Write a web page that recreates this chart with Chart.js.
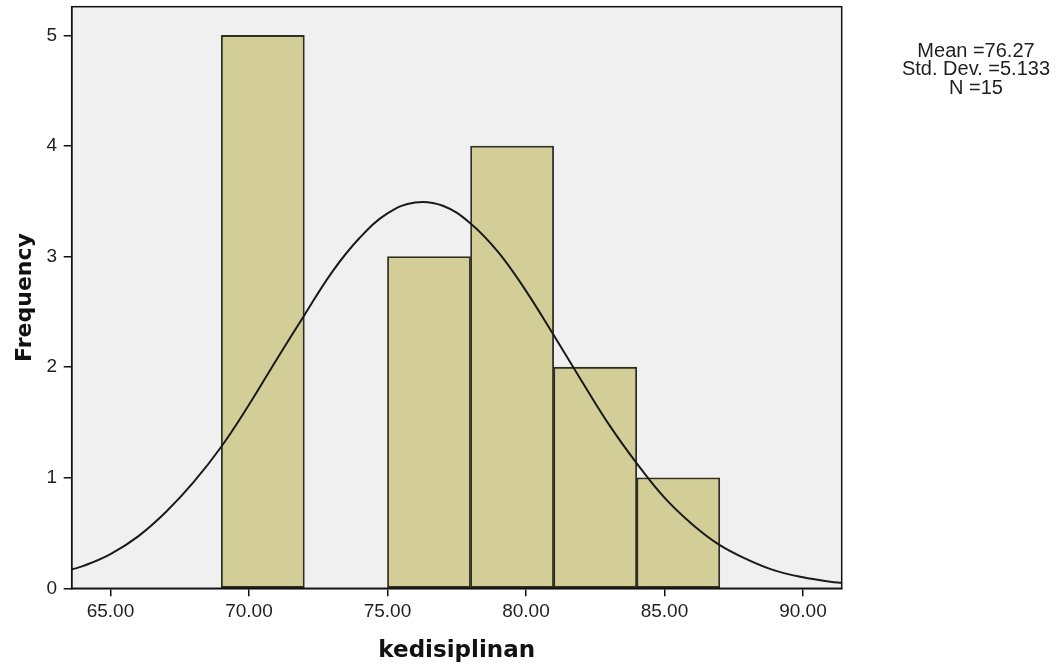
<!DOCTYPE html>
<html>
<head>
<meta charset="utf-8">
<script src="https://cdn.jsdelivr.net/npm/chart.js@4"></script>
<style>
  html, body { margin: 0; padding: 0; background: #fff; }
  #wrap { width: 1061px; height: 667px; }
</style>
</head>
<body>
<div id="wrap"><canvas id="histChart" width="1061" height="667"></canvas></div>
<script>
// Histogram bins (start of each bin, width 3) and their counts
const binStarts = [69, 72, 75, 78, 81, 84];
const binCounts = [5, 0, 3, 4, 2, 1];
const binWidth = 3;

// Normal curve
const curveX = [63.6, 64, 65, 66, 67, 68, 69, 70, 71, 72, 73, 74, 75, 76, 77, 78, 79, 80, 81, 82, 83, 84, 85, 86, 87, 88, 89, 90, 91, 91.4];
const curveY = [0.17, 0.20, 0.31, 0.47, 0.69, 0.96, 1.28, 1.66, 2.07, 2.47, 2.86, 3.17, 3.39, 3.49, 3.46, 3.30, 3.04, 2.69, 2.29, 1.88, 1.48, 1.13, 0.82, 0.58, 0.39, 0.26, 0.16, 0.10, 0.06, 0.05];

// Axis ticks
const xTicks = [65, 70, 75, 80, 85, 90];
const yTicks = [0, 1, 2, 3, 4, 5];

const statsLines = ['Mean =76.27', 'Std. Dev. =5.133', 'N =15'];

const barData = binStarts.map((s, i) => ({ x: s + binWidth / 2, y: binCounts[i] }));
const curveData = curveX.map((x, i) => ({ x: x, y: curveY[i] }));

// Grey plot background + frame + stats text
const plotFrame = {
  id: 'plotFrame',
  beforeDraw(chart) {
    const { ctx, chartArea: a } = chart;
    ctx.save();
    ctx.fillStyle = '#f0f0f0';
    ctx.fillRect(a.left, a.top, a.right - a.left, a.bottom - a.top);
    ctx.restore();
  },
  afterDraw(chart) {
    const { ctx, chartArea: a } = chart;
    ctx.save();
    ctx.strokeStyle = '#111';
    ctx.lineWidth = 1.5;
    ctx.strokeRect(a.left, a.top, a.right - a.left, a.bottom - a.top);
    ctx.fillStyle = '#1e1e1e';
    ctx.font = '20px "Liberation Sans", Arial, sans-serif';
    ctx.textAlign = 'center';
    ctx.textBaseline = 'middle';
    statsLines.forEach((t, i) => ctx.fillText(t, 976, 51 + i * 18.5));
    ctx.restore();
  }
};

const ctx = document.getElementById('histChart');
new Chart(ctx, {
  data: {
    datasets: [
      {
        type: 'line',
        data: curveData,
        borderColor: '#1a1a1a',
        borderWidth: 2,
        pointRadius: 0,
        tension: 0.4,
        order: 0
      },
      {
        type: 'bar',
        data: barData,
        backgroundColor: '#d3ce97',
        borderColor: '#2e2e22',
        borderWidth: (c) => (binCounts[c.dataIndex] > 0 ? 1.8 : 0),
        borderSkipped: false,
        barPercentage: 1,
        categoryPercentage: 1,
        order: 1
      }
    ]
  },
  options: {
    responsive: false,
    animation: false,
    layout: { padding: { left: 0, right: 219.3, top: 6.7, bottom: 0 } },
    plugins: {
      legend: { display: false },
      tooltip: { enabled: false }
    },
    scales: {
      x: {
        type: 'linear',
        offset: false,
        min: 63.6,
        max: 91.4,
        afterBuildTicks: (scale) => { scale.ticks = xTicks.map(v => ({ value: v })); },
        afterFit: (scale) => { scale.height = 78.7; scale.paddingLeft = 0; scale.paddingRight = 0; },
        ticks: {
          color: '#1e1e1e',
          padding: 4,
          maxRotation: 0,
          font: { family: '"Liberation Sans", Arial, sans-serif', size: 19 },
          callback: (v) => Number(v).toFixed(2)
        },
        grid: { offset: false, drawOnChartArea: false, drawTicks: true, tickLength: 8, color: '#111', lineWidth: 1.5 },
        border: { display: true, color: '#111', width: 1.5 },
        title: {
          display: true,
          text: 'kedisiplinan',
          color: '#111',
          padding: { top: 0, bottom: 2 },
          font: { family: '"DejaVu Sans", sans-serif', size: 23, weight: 'bold' }
        }
      },
      y: {
        min: 0,
        max: 5.26,
        afterBuildTicks: (scale) => { scale.ticks = yTicks.map(v => ({ value: v })); },
        afterFit: (scale) => { scale.width = 71.7; scale.paddingTop = 0; scale.paddingBottom = 0; },
        ticks: {
          color: '#1e1e1e',
          padding: 6.7,
          font: { family: '"Liberation Sans", Arial, sans-serif', size: 19 }
        },
        grid: { drawOnChartArea: false, drawTicks: true, tickLength: 8, color: '#111', lineWidth: 1.5 },
        border: { display: true, color: '#111', width: 1.5 },
        title: {
          display: true,
          text: 'Frequency',
          color: '#111',
          padding: { top: 12, bottom: 0 },
          font: { family: '"DejaVu Sans", sans-serif', size: 22, weight: 'bold' }
        }
      }
    }
  },
  plugins: [plotFrame]
});
</script>
</body>
</html>
